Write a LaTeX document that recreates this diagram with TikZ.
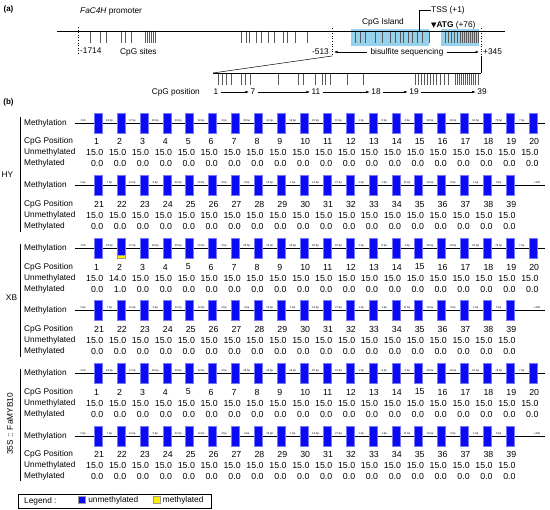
\documentclass[tikz,border=0pt]{standalone}
\usepackage{fontspec}
\setmainfont{Liberation Sans}
\newfontfamily\symfont{DejaVu Sans}
\usetikzlibrary{arrows.meta, positioning, calc}
\definecolor{cpgblue}{RGB}{10,10,245}
\definecolor{islandblue}{RGB}{150,210,235}
\definecolor{methyellow}{RGB}{255,240,0}

\tikzset{
  lbl/.style={font=\fontsize{8.3}{10}\selectfont, inner sep=0pt},
  num/.style={font=\fontsize{8.8}{10}\selectfont, inner sep=0pt},
  bp/.style={font=\fontsize{2.7}{3}\selectfont, inner sep=0pt},
  cpgbox/.style={fill=cpgblue, draw=cpgblue!55, line width=0.3pt, minimum width=8pt, minimum height=20pt, inner sep=0pt},
  cpgtick/.style={line width=0.6pt, black!65},
  smallarr/.style={-{Latex[length=3.5pt,width=2.5pt]}, line width=0.5pt},
}

% one row of the methylation map
% #1 row name, #2 y of the line, #3 first CpG, #4 last CpG,
% #5 left end label, #6 right end label, #7 gaps in bp, #8 CpG with one methylated clone
\newcommand{\methrow}[8]{%
  \node[lbl, anchor=west] (#1-lab) at (24,#2) {Methylation};
  \node[lbl, anchor=west] (#1-pos) at (24,#2+18.5) {CpG Position};
  \node[lbl, anchor=west] (#1-un) at (24,#2+29.5) {Unmethylated};
  \node[lbl, anchor=west] (#1-me) at (24,#2+40.5) {Methylated};
  \coordinate (#1-s) at (75,#2);
  \coordinate (#1-e) at (545,#2);
  \draw[line width=0.9pt] (#1-s) -- (#1-e);
  \node[bp] (#1-l) at (83,#2-2.5) {#5};
  \node[bp] (#1-r) at (537,#2-2.5) {#6};
  \foreach \g [count=\i from 0] in {#7} {
    \node[bp] (#1-g\i) at (98+22.9*\i+11.45,#2-2.5) {\g\ bp};
  }
  \foreach \c [count=\i from 0] in {#3,...,#4} {
    \pgfmathsetmacro{\x}{98+22.9*\i}
    \node[cpgbox] (#1-\c) at (\x,#2) {};
    \ifnum\c=#8\relax
      \def\un{14.0}\def\me{1.0}
      \filldraw[fill=methyellow, draw=black!40, line width=0.3pt] (#1-\c.south west) rectangle ++(8,-3);
    \else
      \def\un{15.0}\def\me{0.0}
    \fi
    \node[num, anchor=west] (#1-p\c) at (\x-4,#2+18.5) {\c};
    \node[num, anchor=east] (#1-u\c) at (\x+5.5,#2+29.5) {\un};
    \node[num, anchor=east] (#1-m\c) at (\x+5.5,#2+40.5) {\me};
  }
}

\begin{document}
\begin{tikzpicture}[x=1pt, y=-1pt]
  \useasboundingbox (0,0) rectangle (550,510);

  % (a) promoter map
  \node[lbl, font=\bfseries\fontsize{8}{9}\selectfont] (pa) at (8.5,9) {(a)};
  \node[lbl, anchor=west] (prom) at (80,11) {\textit{FaC4H} promoter};
  % CpG island shading
  \fill[islandblue] (351,29) rectangle (429,46);
  \fill[islandblue] (441,29) rectangle (479,46);
  \coordinate (ps) at (57,31);
  \coordinate (pe) at (505,31);
  \foreach \x in {90,100,106,121,125,131,145,147,149,151,153,155,
                  241,246,249,256,261,268,274,283,287,295,307,
                  355,360,365,375,382,390,395,400,403,408,412,417,422,429,
                  445,448,451,454,457,460,462,464,466,468,470,472,474,476,478}
    \draw[cpgtick] (\x,31) -- (\x,43);
  \draw[line width=0.9pt] (ps) -- (pe);
  \node[lbl] (island) at (383,22) {CpG Island};

  % TSS and ATG
  \node[lbl, anchor=west] (tss) at (431,10) {TSS (+1)};
  \coordinate (tssb) at (419,31);
  \draw[line width=0.5pt] (tssb) |- (tss.west);
  \node[lbl, anchor=west] (atg) at (431,25) {{\symfont\fontsize{7}{8}\selectfont ▼}\textbf{ATG} (+76)};

  % start and end points
  \node[lbl, anchor=west] (m1714) at (80,51) {-1714};
  \node[lbl, anchor=west] (sites) at (120,52) {CpG sites};
  \coordinate (d1t) at (78,27);
  \coordinate (d1b) at (78,55);
  \draw[dotted, line width=0.6pt] (d1t) -- (d1b);
  \node[lbl, anchor=east] (m513) at (329,52) {-513};
  \node[lbl, anchor=west] (p345) at (483,52) {+345};
  \coordinate (d2t) at (332,28);
  \coordinate (d2b) at (332,56);
  \coordinate (d3t) at (481,28);
  \coordinate (d3b) at (481,56);
  \draw[dotted, line width=0.6pt] (d2t) -- (d2b);
  \draw[dotted, line width=0.6pt] (d3t) -- (d3b);
  \node[lbl] (bis) at (407,52) {bisulfite sequencing};
  \draw[smallarr] (bis.west) ++(-3,0) -- (334,52);
  \draw[smallarr] (bis.east) ++(3,0) -- (479,52);

  % zoom on the sequenced region
  \coordinate (ex1) at (213,73);
  \coordinate (ex2) at (481,73);
  \draw[line width=0.5pt] (d2b) -- (ex1);
  \draw[line width=0.5pt] (d3b) -- (ex2);
  \foreach \x in {218,222,226,231,241,245,250,
                  278,298,303,315,322,325,330,347,363,
                  415,418,421,424,427,430,433,436,440,444,448,
                  455,457,459,461,463,465,467,469,471,473,475,478}
    \draw[cpgtick] (\x,73) -- (\x,85);
  \draw[line width=0.9pt] (ex1) -- (ex2);
  \node[lbl, anchor=east] (cpgpos) at (200,92) {CpG position};
  \node[lbl] (n1) at (216,92) {1};
  \node[lbl] (n7) at (253,92) {7};
  \node[lbl] (n11) at (316,92) {11};
  \node[lbl] (n18) at (376,92) {18};
  \node[lbl] (n19) at (414,92) {19};
  \node[lbl] (n39) at (482,92) {39};
  \foreach \a/\b in {n1/n7, n7/n11, n11/n18, n18/n19, n19/n39}
    \draw[smallarr, shorten <=2pt, shorten >=1.5pt] (\a.east) -- (\b.west);

  % (b) methylation of the 39 CpG sites
  \node[lbl, font=\bfseries\fontsize{8}{9}\selectfont] (pb) at (8.5,102) {(b)};
  \methrow{hya}{123}{1}{20}{-513}{}{18,17,16,29,10,3,36,41,19,25,15,1,8,4,39,16,61,78,7}{0}
  \methrow{hyb}{185.5}{21}{39}{1 bp}{+345}{7,11,3,22,10,4,4,15,1,14,27,1,1,11,10,6,1,6}{0}
  \methrow{xba}{248.5}{1}{20}{-513}{}{18,17,16,29,10,3,36,41,19,25,15,1,8,4,39,16,61,78,7}{2}
  \methrow{xbb}{310.5}{21}{39}{1 bp}{+345}{7,11,3,22,10,4,4,15,1,14,27,1,1,11,10,6,1,6}{0}
  \methrow{mya}{373.5}{1}{20}{-513}{}{18,17,16,29,10,3,36,41,19,25,15,1,8,4,39,16,61,78,7}{0}
  \methrow{myb}{436}{21}{39}{1 bp}{+345}{7,11,3,22,10,4,4,15,1,14,27,1,1,11,10,6,1,6}{0}

  % lines
  \coordinate (hyt) at (20,117);
  \coordinate (hyb) at (20,232);
  \coordinate (xbt) at (20,244);
  \coordinate (xbb) at (20,357);
  \coordinate (myt) at (20,369);
  \coordinate (myb) at (20,481);
  \draw[line width=0.9pt] (hyt) -- (hyb);
  \draw[line width=0.9pt] (xbt) -- (xbb);
  \draw[line width=0.9pt] (myt) -- (myb);
  \node[lbl] (hy) at (7.5,175) {HY};
  \node[lbl] (xb) at (11.5,298) {XB};
  \node[lbl, rotate=90] (my) at (10,424) {35S :: FaMYB10};

  % Legend
  \node[draw, line width=0.9pt, minimum width=193pt, minimum height=14pt, inner sep=0pt] (leg) at (114.5,501) {};
  \node[lbl, anchor=west] (legt) at (24,501) {Legend :};
  \node[fill=cpgblue, draw=black!40, line width=0.3pt, minimum size=7pt, inner sep=0pt] (legb) at (82,500) {};
  \node[lbl, anchor=west, right=2.5pt of legb] (legbt) {unmethylated};
  \node[fill=methyellow, draw=black!40, line width=0.3pt, minimum size=7pt, inner sep=0pt] (legy) at (156.5,500) {};
  \node[lbl, anchor=west, right=2.5pt of legy] (legyt) {methylated};
\end{tikzpicture}
\end{document}
